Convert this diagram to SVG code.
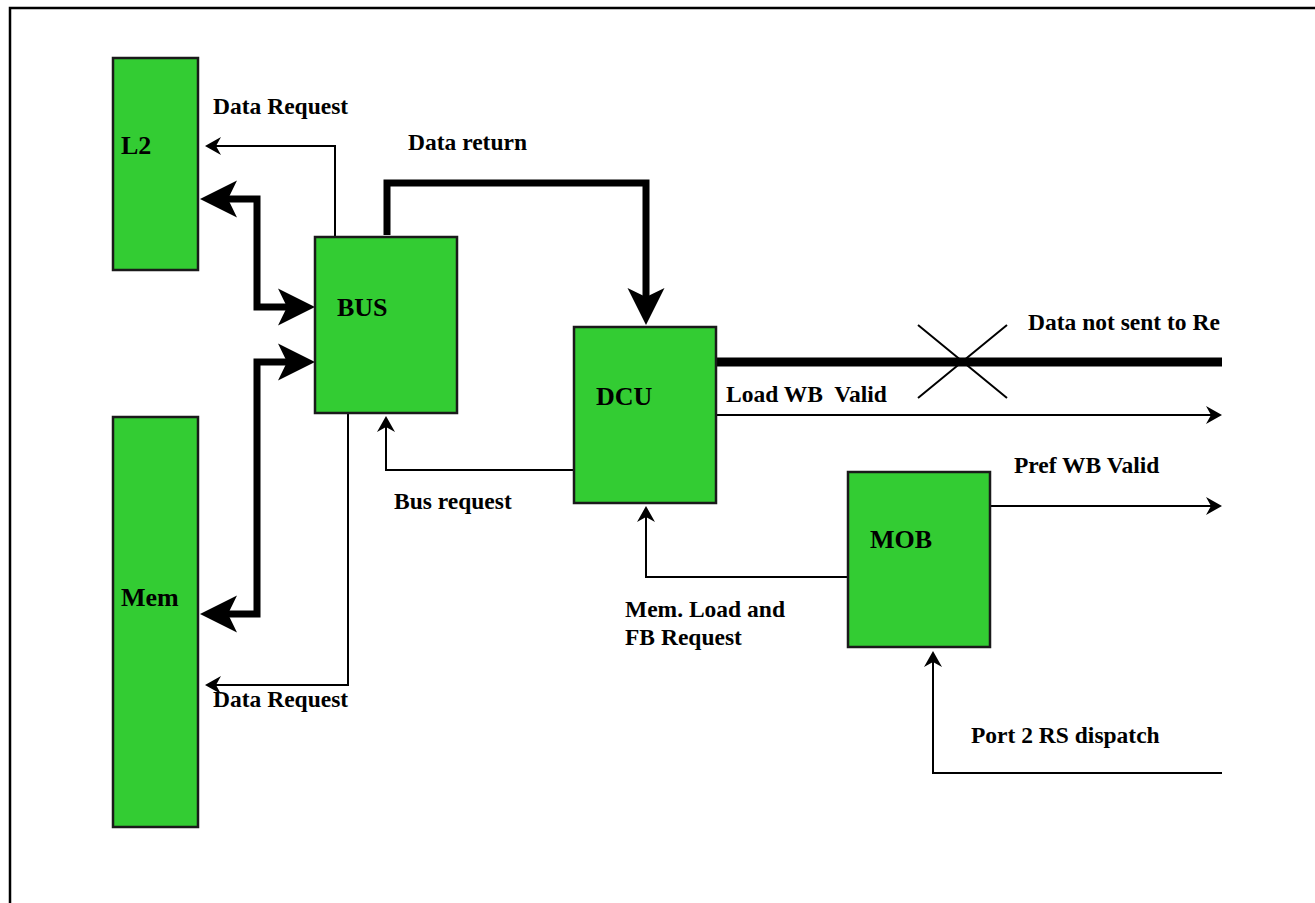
<svg xmlns="http://www.w3.org/2000/svg" width="1315" height="903" viewBox="0 0 1315 903">
<style>
.node{fill:#33cc33;stroke:#1a1a1a;stroke-width:2.5}
.lbl{font-family:"Liberation Serif","Times New Roman",serif;font-weight:bold;font-size:26px;fill:#000}
.elbl{font-family:"Liberation Serif","Times New Roman",serif;font-weight:bold;font-size:23.5px;fill:#000}
.thin{fill:none;stroke:#000;stroke-width:2}
.thick{fill:none;stroke:#000;stroke-width:7}
</style>
<defs>
<marker id="ah" markerUnits="userSpaceOnUse" viewBox="-10 -12 24 24" markerWidth="24" markerHeight="24" refX="0" refY="0" orient="auto-start-reverse" overflow="visible">
<path d="M11,0 L-5,-9 L0,0 L-5,9 Z" fill="#000"/>
</marker>
<marker id="AH" markerUnits="userSpaceOnUse" viewBox="-12 -20 44 40" markerWidth="44" markerHeight="40" refX="0" refY="0" orient="auto-start-reverse" overflow="visible">
<path d="M28,0 L-9,-18.5 L0,0 L-9,18.5 Z" fill="#000"/>
</marker>
<clipPath id="clip"><rect x="0" y="0" width="1222" height="903"/></clipPath>
</defs>
<rect x="0" y="0" width="1315" height="903" fill="#fff"/>
<g id="frame"><path d="M10,903 V8 H1315" fill="none" stroke="#000" stroke-width="2.5"/></g>
<g clip-path="url(#clip)">
<g id="connectors">
<path class="thin" d="M335,237 V146 H216" marker-end="url(#ah)"/>
<path class="thick" d="M228,199 H257 V307 H287" marker-start="url(#AH)" marker-end="url(#AH)"/>
<path class="thick" d="M287,362 H257 V614 H228" marker-start="url(#AH)" marker-end="url(#AH)"/>
<path class="thin" d="M348,413 V685 H216" marker-end="url(#ah)"/>
<path class="thick" d="M387,235 V183 H646 V297" marker-end="url(#AH)"/>
<path class="thin" d="M574,470 H386 V427" marker-end="url(#ah)"/>
<path fill="none" stroke="#000" stroke-width="9" d="M716,362 H1230"/>
<path class="thin" d="M918,325 L1007,398 M1007,325 L918,398"/>
<path class="thin" d="M716,415 H1211" marker-end="url(#ah)"/>
<path class="thin" d="M990,506 H1211" marker-end="url(#ah)"/>
<path class="thin" d="M848,577 H646 V517" marker-end="url(#ah)"/>
<path class="thin" d="M1224,773 H933 V662" marker-end="url(#ah)"/>
</g>
<g id="L2"><rect class="node" x="113" y="58" width="85" height="212"/><text class="lbl" x="121" y="154">L2</text></g>
<g id="Mem"><rect class="node" x="113" y="417" width="85" height="410"/><text class="lbl" x="121" y="606">Mem</text></g>
<g id="BUS"><rect class="node" x="315" y="237" width="142" height="176"/><text class="lbl" x="337" y="316">BUS</text></g>
<g id="DCU"><rect class="node" x="574" y="327" width="142" height="176"/><text class="lbl" x="596" y="405">DCU</text></g>
<g id="MOB"><rect class="node" x="848" y="472" width="142" height="175"/><text class="lbl" x="870" y="548">MOB</text></g>
<g id="labels">
<text class="elbl" x="213" y="114">Data Request</text>
<text class="elbl" x="408" y="150">Data return</text>
<text class="elbl" x="213" y="707">Data Request</text>
<text class="elbl" x="394" y="509">Bus request</text>
<text class="elbl" x="726" y="402" xml:space="preserve">Load WB  Valid</text>
<text class="elbl" x="1028" y="330">Data not sent to Re</text>
<text class="elbl" x="1014" y="473">Pref WB Valid</text>
<text class="elbl" x="625" y="617">Mem. Load and</text>
<text class="elbl" x="625" y="645">FB Request</text>
<text class="elbl" x="971" y="743">Port 2 RS dispatch</text>
</g>
</g>
</svg>
